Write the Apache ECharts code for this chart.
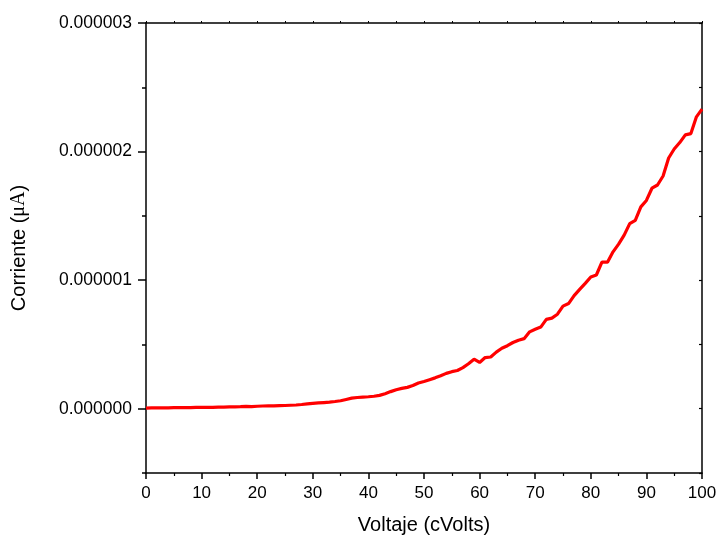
<!DOCTYPE html>
<html>
<head>
<meta charset="utf-8">
<script src="https://cdn.jsdelivr.net/npm/echarts@6/dist/echarts.min.js"></script>
<style>
  html, body { margin: 0; padding: 0; background: #fff; }
  #chart { width: 720px; height: 541px; }
</style>
</head>
<body>
<div id="chart"></div>
<script>
// Voltage sweep (cVolts)
const voltaje = [
  0, 1, 2, 3, 4, 5, 6, 7, 8, 9,
  10, 11, 12, 13, 14, 15, 16, 17, 18, 19,
  20, 21, 22, 23, 24, 25, 26, 27, 28, 29,
  30, 31, 32, 33, 34, 35, 36, 37, 38, 39,
  40, 41, 42, 43, 44, 45, 46, 47, 48, 49,
  50, 51, 52, 53, 54, 55, 56, 57, 58, 59,
  60, 61, 62, 63, 64, 65, 66, 67, 68, 69,
  70, 71, 72, 73, 74, 75, 76, 77, 78, 79,
  80, 81, 82, 83, 84, 85, 86, 87, 88, 89,
  90, 91, 92, 93, 94, 95, 96, 97, 98, 99,
  100
];

// Measured current (A)
const corriente = [
  0.005e-6, 0.006e-6, 0.006e-6, 0.007e-6, 0.007e-6, 0.008e-6, 0.008e-6, 0.009e-6, 0.009e-6, 0.011e-6,
  0.011e-6, 0.010e-6, 0.011e-6, 0.013e-6, 0.013e-6, 0.014e-6, 0.015e-6, 0.016e-6, 0.018e-6, 0.016e-6,
  0.019e-6, 0.021e-6, 0.022e-6, 0.022e-6, 0.024e-6, 0.025e-6, 0.027e-6, 0.029e-6, 0.033e-6, 0.038e-6,
  0.042e-6, 0.045e-6, 0.048e-6, 0.051e-6, 0.056e-6, 0.062e-6, 0.072e-6, 0.082e-6, 0.087e-6, 0.090e-6,
  0.093e-6, 0.097e-6, 0.104e-6, 0.117e-6, 0.133e-6, 0.148e-6, 0.158e-6, 0.166e-6, 0.180e-6, 0.200e-6,
  0.212e-6, 0.226e-6, 0.240e-6, 0.256e-6, 0.275e-6, 0.288e-6, 0.297e-6, 0.320e-6, 0.350e-6, 0.385e-6,
  0.360e-6, 0.398e-6, 0.402e-6, 0.440e-6, 0.470e-6, 0.490e-6, 0.515e-6, 0.533e-6, 0.545e-6, 0.598e-6,
  0.618e-6, 0.635e-6, 0.695e-6, 0.705e-6, 0.735e-6, 0.798e-6, 0.818e-6, 0.880e-6, 0.928e-6, 0.975e-6,
  1.025e-6, 1.040e-6, 1.140e-6, 1.140e-6, 1.220e-6, 1.280e-6, 1.350e-6, 1.440e-6, 1.465e-6, 1.570e-6,
  1.620e-6, 1.715e-6, 1.740e-6, 1.810e-6, 1.950e-6, 2.020e-6, 2.070e-6, 2.130e-6, 2.140e-6, 2.270e-6,
  2.330e-6
];

// Labelled current ticks (A)
const yTickLabels = [0, 1e-6, 2e-6, 3e-6];

const FONT = 'Liberation Sans, Arial, sans-serif';
const chart = echarts.init(document.getElementById('chart'), null, { renderer: 'canvas' });

const yMin = -5e-7, yMax = 3e-6;
const axisLine = { show: true, onZero: false, lineStyle: { color: '#000', width: 1.5 } };

chart.setOption({
  animation: false,
  backgroundColor: '#fff',
  grid: { left: 146, right: 18, top: 23, bottom: 68, containLabel: false },
  xAxis: [
    {
      type: 'value', position: 'bottom', min: 0, max: 100, interval: 10,
      axisLine: axisLine,
      axisTick: { show: true, inside: false, length: 6, lineStyle: { color: '#000', width: 1.5 } },
      minorTick: { show: true, splitNumber: 2, length: 3, lineStyle: { color: '#000', width: 1.2 } },
      axisLabel: { color: '#000', fontFamily: FONT, fontSize: 17, margin: 12 },
      splitLine: { show: false },
      name: 'Voltaje (cVolts)', nameLocation: 'middle', nameGap: 42,
      nameTextStyle: { color: '#000', fontFamily: FONT, fontSize: 20 }
    },
    {
      type: 'value', position: 'top', min: 0, max: 100, interval: 5,
      axisLine: axisLine,
      axisTick: { show: true, inside: false, length: 2, lineStyle: { color: '#000', width: 1 } },
      axisLabel: { show: false },
      splitLine: { show: false }
    }
  ],
  yAxis: [
    {
      type: 'value', position: 'left', min: yMin, max: yMax, interval: 5e-7,
      axisLine: axisLine,
      axisTick: { show: true, inside: false, length: 8, customValues: yTickLabels,
                  lineStyle: { color: '#000', width: 1.5 } },
      axisLabel: {
        color: '#000', fontFamily: FONT, fontSize: 17.5, margin: 14,
        customValues: yTickLabels,
        formatter: v => v.toFixed(6)
      },
      splitLine: { show: false },
      name: 'Corriente ({m|μA})', nameLocation: 'middle', nameGap: 117, nameRotate: 90,
      nameTextStyle: {
        color: '#000', fontFamily: FONT, fontSize: 20,
        rich: { m: { color: '#000', fontFamily: 'Liberation Serif, Times New Roman, serif', fontSize: 20 } }
      }
    },
    {
      type: 'value', position: 'left', min: yMin, max: yMax, interval: 5e-7,
      axisLine: { show: false, onZero: false },
      axisTick: { show: true, inside: false, length: 4, lineStyle: { color: '#000', width: 1.5 } },
      axisLabel: { show: false },
      splitLine: { show: false }
    },
    {
      type: 'value', position: 'right', min: yMin, max: yMax, interval: 5e-7,
      axisLine: axisLine,
      axisTick: { show: true, inside: true, length: 3, lineStyle: { color: '#000', width: 1.2 } },
      axisLabel: { show: false },
      splitLine: { show: false }
    }
  ],
  series: [
    {
      type: 'line',
      xAxisIndex: 0,
      yAxisIndex: 0,
      data: voltaje.map((v, i) => [v, corriente[i]]),
      showSymbol: false,
      symbol: 'none',
      lineStyle: { color: '#ff0000', width: 3.2 },
      itemStyle: { color: '#ff0000' },
      z: 3
    }
  ]
});
</script>
</body>
</html>
